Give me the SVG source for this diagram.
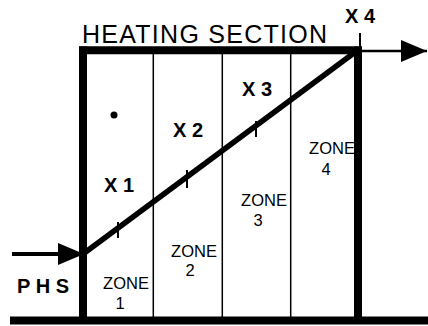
<svg xmlns="http://www.w3.org/2000/svg" width="428" height="326" viewBox="0 0 428 326">
<style>
.thick{stroke:#000;stroke-width:8;fill:none}
.thin{stroke:#000;stroke-width:1.5;fill:none}
.tick{stroke:#000;stroke-width:2;fill:none}
.lbl{font-family:"Liberation Sans",Arial,sans-serif;fill:#000}
.x{font-family:"Liberation Sans",Arial,sans-serif;font-weight:bold;font-size:20px;fill:#000}
.zone{font-family:"Liberation Sans",Arial,sans-serif;font-size:16.5px;fill:#000;text-anchor:middle}
</style>
<defs>
<marker id="ah" markerUnits="userSpaceOnUse" markerWidth="26" markerHeight="24" refX="26" refY="12" orient="auto">
<path d="M0,1 L26,12 L0,23 Z" fill="#000"/>
</marker>
</defs>
<rect width="428" height="326" fill="#fff"/>
<g id="section">
<line class="thin" x1="153.3" y1="50" x2="153.3" y2="318"/>
<line class="thin" x1="222.3" y1="50" x2="222.3" y2="318"/>
<line class="thin" x1="290.7" y1="50" x2="290.7" y2="318"/>
<line class="thick" x1="83" y1="46.5" x2="83" y2="318"/>
<line class="thick" x1="358" y1="46.5" x2="358" y2="318"/>
<line class="thick" stroke-width="7" x1="79" y1="50.3" x2="362" y2="50.3"/>
<line class="thick" x1="10" y1="320.5" x2="428" y2="320.5"/>
<text class="lbl" x="82" y="43" font-size="25" textLength="245" lengthAdjust="spacing">HEATING SECTION</text>
<circle cx="114" cy="115" r="3.5" fill="#000"/>
</g>
<g id="connectors">
<line x1="12" y1="254" x2="84" y2="254" stroke="#000" stroke-width="4" marker-end="url(#ah)"/>
<line x1="362" y1="51" x2="427" y2="51" stroke="#000" stroke-width="2.5" marker-end="url(#ah)"/>
<line x1="83" y1="254" x2="358" y2="50" stroke="#000" stroke-width="5.5"/>
<line class="tick" x1="118" y1="222" x2="118" y2="238"/>
<line class="tick" x1="187" y1="170" x2="187" y2="188"/>
<line class="tick" x1="256" y1="121" x2="256" y2="137"/>
<line class="tick" x1="360" y1="33" x2="360" y2="47"/>
</g>
<g id="labels">
<text class="x" x="104" y="192">X 1</text>
<text class="x" x="173" y="137">X 2</text>
<text class="x" x="242" y="96">X 3</text>
<text class="x" x="345" y="23">X 4</text>
<text class="x" x="17" y="293" letter-spacing="5.5">PHS</text>
</g>
<g id="zone1"><text class="zone" x="126" y="289">ZONE</text><text class="zone" x="120" y="309">1</text></g>
<g id="zone2"><text class="zone" x="194" y="257">ZONE</text><text class="zone" x="190" y="276">2</text></g>
<g id="zone3"><text class="zone" x="264" y="206">ZONE</text><text class="zone" x="258" y="226">3</text></g>
<g id="zone4"><text class="zone" x="332" y="154">ZONE</text><text class="zone" x="326" y="175">4</text></g>
</svg>
